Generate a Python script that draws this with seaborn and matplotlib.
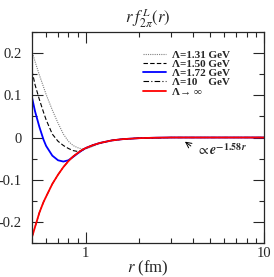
import numpy as np
import pandas as pd
import matplotlib
matplotlib.use('Agg')
import matplotlib.pyplot as plt
import seaborn as sns
from matplotlib.ticker import MultipleLocator, FuncFormatter, LogLocator, NullFormatter

# r (fm) sampled by eye from the figure
r_fm = [0.50, 0.52, 0.55, 0.58, 0.60, 0.65, 0.70, 0.75, 0.80, 0.85, 0.90, 0.95,
        1.0, 1.1, 1.2, 1.4, 1.6, 2.0, 2.5, 3.0, 5.0, 10.0]

f_131 = [0.205, 0.180, 0.148, 0.120, 0.102, 0.065, 0.034, 0.008, -0.009, -0.019, -0.024, -0.027,
         -0.027, -0.021, -0.014, -0.007, -0.004, -0.0015, -0.0005, 0.0, 0.0, 0.0]
f_150 = [0.158, 0.125, 0.090, 0.060, 0.042, 0.008, -0.009, -0.019, -0.026, -0.031, -0.033, -0.031,
         -0.026, -0.018, -0.013, -0.007, -0.004, -0.0015, -0.0005, 0.0, 0.0, 0.0]
f_172 = [0.095, 0.062, 0.025, -0.005, -0.020, -0.043, -0.054, -0.057, -0.054, -0.046, -0.038, -0.031,
         -0.025, -0.018, -0.013, -0.007, -0.004, -0.0015, -0.0005, 0.0, 0.0, 0.0]
f_10 = [-0.236, -0.212, -0.178, -0.153, -0.140, -0.110, -0.088, -0.070, -0.056, -0.045, -0.037, -0.030,
        -0.025, -0.018, -0.013, -0.007, -0.004, -0.0015, -0.0005, 0.0, 0.0, 0.0]
f_inf = [-0.236, -0.212, -0.178, -0.153, -0.140, -0.110, -0.088, -0.070, -0.056, -0.045, -0.037, -0.030,
         -0.025, -0.018, -0.013, -0.007, -0.004, -0.0015, -0.0005, 0.0, 0.0, 0.0]

labels = ['Λ=1.31 GeV', 'Λ=1.50 GeV', 'Λ=1.72 GeV', 'Λ=10    GeV', 'Λ→ ∞']

sns.set_style('ticks')
plt.rcParams['font.family'] = ['Liberation Serif', 'DejaVu Serif']
plt.rcParams['mathtext.fontset'] = 'stix'
plt.rcParams['axes.unicode_minus'] = False

fig = plt.figure(figsize=(2.74, 2.77), dpi=100)
ax = fig.add_axes([0.1168, 0.1227, 0.8467, 0.7618])

styles = [
    (f_131, '#808080', (0, (1, 1)), 0.8),
    (f_150, 'black', (0, (4, 2)), 0.8),
    (f_172, '#0000ff', '-', 1.3),
    (f_10, 'black', (0, (5, 2, 1, 2)), 0.8),
    (f_inf, '#ff0000', '-', 1.3),
]
for (vals, col, ls, lw), lab in zip(styles, labels):
    sns.lineplot(x=r_fm, y=vals, ax=ax, color=col, linestyle=ls, linewidth=lw, label=lab)

ax.set_xscale('log')
ax.set_xlim(0.5, 10)
ax.set_ylim(-0.25, 0.25)

ax.yaxis.set_major_locator(MultipleLocator(0.1))
ax.yaxis.set_minor_locator(MultipleLocator(0.05))
ax.yaxis.set_major_formatter(FuncFormatter(lambda v, p: '%g' % round(v, 3)))
ax.xaxis.set_major_locator(LogLocator(base=10, numticks=5))
ax.xaxis.set_minor_locator(LogLocator(base=10, subs=np.arange(2, 10) * 1.0, numticks=10))
ax.xaxis.set_major_formatter(FuncFormatter(lambda v, p: '%g' % v))
ax.xaxis.set_minor_formatter(NullFormatter())
ax.tick_params(which='both', direction='in', top=True, right=True, labelsize=10.5, width=0.8)
ax.tick_params(which='major', length=8)
ax.tick_params(which='minor', length=3.6)
ax.tick_params(axis='y', pad=7.5)
ax.tick_params(axis='x', pad=3)
for s in ax.spines.values():
    s.set_linewidth(0.9)

ax.set_title(r'$r\;f^{\,L}_{2\pi}(r)$', fontsize=12, pad=6)
ax.set_xlabel(r'$r$ (fm)', fontsize=12, labelpad=-1)
ax.set_ylabel('')

ax.annotate('', xy=(3.5, -0.006), xytext=(4.0, -0.024),
            arrowprops=dict(arrowstyle='->', lw=0.7, color='black'))
ax.text(4.15, -0.03, r'$\propto \mathbfit{e}^{\mathbf{-1.58}\,\mathbfit{r}}$', fontsize=10,
        va='center', ha='left')

ax.legend(loc='upper left', bbox_to_anchor=(0.477, 0.915), frameon=False,
          prop={'weight': 'bold', 'size': 8}, handlelength=2.1, handletextpad=0.5,
          labelspacing=-0.05, borderpad=0, borderaxespad=0)

fig.savefig('out.png', dpi=100)
